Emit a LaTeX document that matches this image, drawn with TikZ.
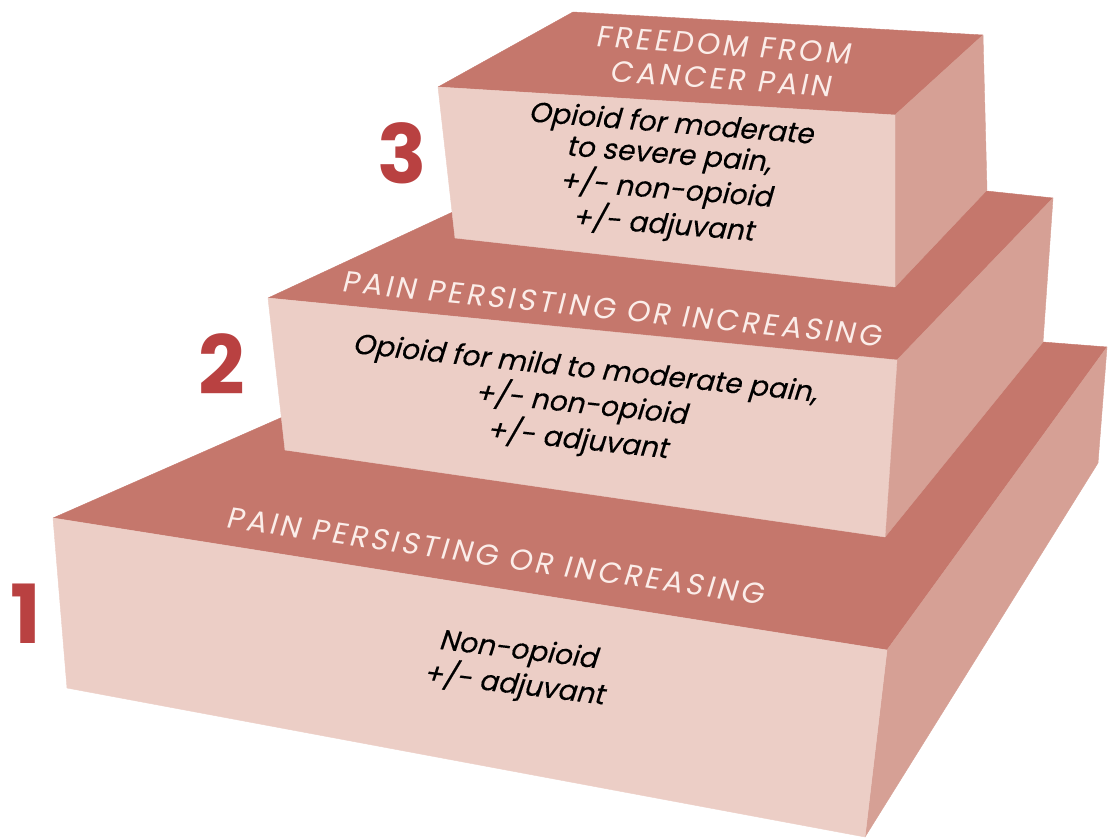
\documentclass[tikz,border=0pt]{standalone}
\usepackage{fontspec}
\setmainfont{Poppins}
\newfontfamily\capsfont[LetterSpace=11,FakeSlant=0.15]{Poppins}
\newfontfamily\bodyfont[FakeSlant=0.2,FakeBold=0.3]{Poppins}
\usetikzlibrary{calc}
\definecolor{lidcol}{HTML}{C5776C}
\definecolor{frontcol}{HTML}{ECCEC6}
\definecolor{sidecol}{HTML}{D6A095}
\definecolor{numcol}{HTML}{B94141}
\definecolor{capcol}{HTML}{FBEDE9}
\tikzset{
  lidface/.style={fill=lidcol,draw=lidcol,line width=0.3pt,line join=round},
  frontface/.style={fill=frontcol,draw=frontcol,line width=0.3pt,line join=round},
  sideface/.style={fill=sidecol,draw=sidecol,line width=0.3pt,line join=round},
  captext/.style={text=capcol,inner sep=0pt,align=center,font=\capsfont\fontsize{21}{24}\selectfont},
  bodytext/.style={text=black,inner sep=0pt,align=center,font=\bodyfont\fontsize{20}{22}\selectfont},
  stepnum/.style={text=numcol,inner sep=0pt,font=\bfseries\fontsize{58}{58}\selectfont}
}

\begin{document}
\begin{tikzpicture}[x=0.025cm,y=-0.025cm]
    \useasboundingbox (0,0) rectangle (1108,839);
    \coordinate (b1a) at (53,518);
    \coordinate (b1b) at (887,650);
    \coordinate (b1c) at (865,837);
    \coordinate (b1d) at (67,688);
    \coordinate (b1e) at (1107,347);
    \coordinate (b1f) at (1098,463);
    \coordinate (b1g) at (542,303);
    \coordinate (b2a) at (268,298);
    \coordinate (b2b) at (897,360);
    \coordinate (b2c) at (885,537);
    \coordinate (b2d) at (285,450);
    \coordinate (b2e) at (1053,198);
    \coordinate (b2f) at (1043,342);
    \coordinate (b2g) at (588,149);
    \coordinate (b3a) at (438,87);
    \coordinate (b3b) at (895,115);
    \coordinate (b3c) at (895,287);
    \coordinate (b3d) at (455,238);
    \coordinate (b3e) at (983,35);
    \coordinate (b3f) at (987,190);
    \coordinate (b3g) at (573,12);
    \filldraw[lidface] (b1a) -- (b1b) -- (b1e) -- (b1g) -- cycle;
    \filldraw[sideface] (b1b) -- (b1e) -- (b1f) -- (b1c) -- cycle;
    \filldraw[frontface] (b1a) -- (b1b) -- (b1c) -- (b1d) -- cycle;
    \filldraw[lidface] (b2a) -- (b2b) -- (b2e) -- (b2g) -- cycle;
    \filldraw[sideface] (b2b) -- (b2e) -- (b2f) -- (b2c) -- cycle;
    \filldraw[frontface] (b2a) -- (b2b) -- (b2c) -- (b2d) -- cycle;
    \filldraw[lidface] (b3a) -- (b3b) -- (b3e) -- (b3g) -- cycle;
    \filldraw[sideface] (b3b) -- (b3e) -- (b3f) -- (b3c) -- cycle;
    \filldraw[frontface] (b3a) -- (b3b) -- (b3c) -- (b3d) -- cycle;
    \node[captext,rotate=-4] at (722,62) (cap3) {FREEDOM FROM\\CANCER PAIN};
    \node[bodytext,rotate=-4.5] at (667,176) (body3) {Opioid for moderate\\to severe pain,\\+/- non-opioid\\+/- adjuvant};
    \node[captext,rotate=-5.8] at (612,309) (cap2) {PAIN PERSISTING OR INCREASING};
    \node[bodytext,rotate=-6,font=\bodyfont\fontsize{20}{25.5}\selectfont] at (581,406) (body2) {Opioid for mild to moderate pain,\\+/- non-opioid\\+/- adjuvant};
    \node[captext,rotate=-8.2] at (495,556) (cap1) {PAIN PERSISTING OR INCREASING};
    \node[bodytext,rotate=-7,font=\bodyfont\fontsize{20}{24}\selectfont] at (516,669) (body1) {Non-opioid\\+/- adjuvant};
    \node[stepnum] at (402,153) (n3) {3};
    \node[stepnum] at (222,364) (n2) {2};
    \node[stepnum] at (26,614) (n1) {1};
\end{tikzpicture}
\end{document}
